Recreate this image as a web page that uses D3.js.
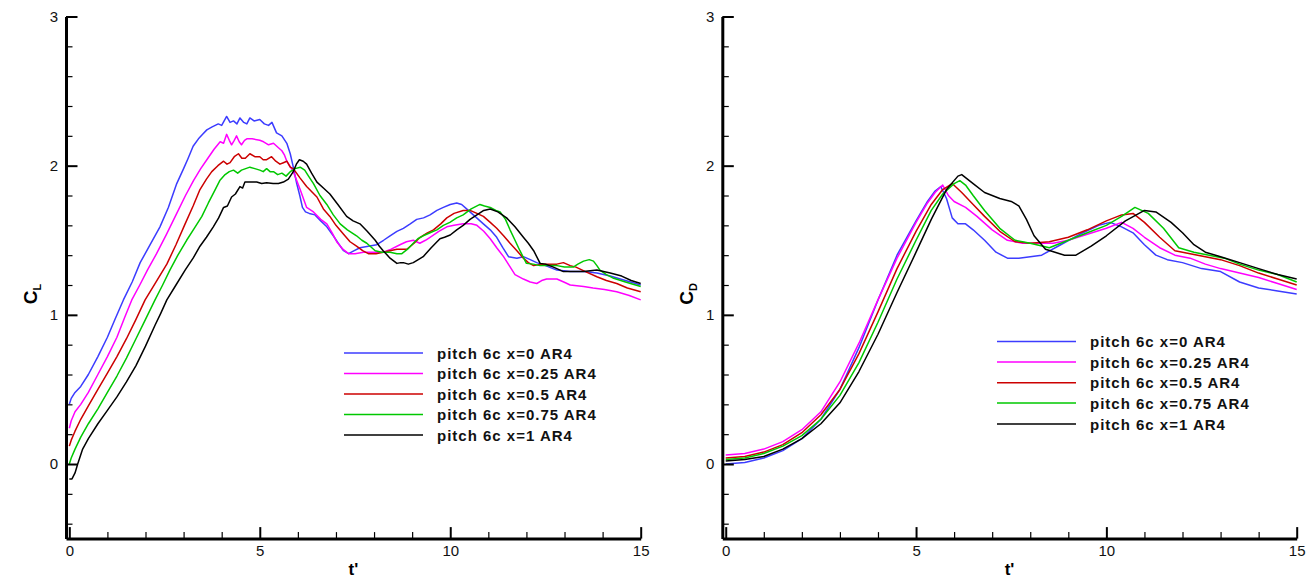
<!DOCTYPE html>
<html>
<head>
<meta charset="utf-8">
<script src="https://cdn.jsdelivr.net/npm/d3@7"></script>
<style>
  body { margin: 0; background: #fff; }
  text { font-family: "Liberation Sans", Arial, sans-serif; }
</style>
</head>
<body>
<svg id="chart" width="1312" height="578"></svg>
<script>
// series names and colours (same order in both panels)
const seriesNames = ["pitch 6c x=0 AR4", "pitch 6c x=0.25 AR4", "pitch 6c x=0.5 AR4", "pitch 6c x=0.75 AR4", "pitch 6c x=1 AR4"]
const seriesColors = ["#3c3cff", "#ff00ff", "#cc0000", "#00c800", "#000000"]

// lift coefficient, [t', CL]
const clX0 = [[0,0.40],[0.05,0.44],[0.15,0.48],[0.3,0.52],[0.5,0.60],[0.75,0.72],[1.0,0.85],[1.2,0.97],[1.42,1.10],[1.65,1.22],[1.86,1.35],[2.1,1.46],[2.38,1.59],[2.6,1.72],[2.82,1.88],[3.0,1.98],[3.12,2.05],[3.25,2.13],[3.39,2.18],[3.5,2.21],[3.61,2.24],[3.75,2.26],[3.91,2.28],[4.0,2.27],[4.13,2.33],[4.22,2.29],[4.31,2.30],[4.4,2.28],[4.48,2.32],[4.58,2.29],[4.66,2.28],[4.74,2.32],[4.85,2.30],[5.0,2.31],[5.12,2.28],[5.23,2.27],[5.32,2.29],[5.44,2.22],[5.58,2.20],[5.71,2.15],[5.8,2.08],[5.88,1.99],[5.97,1.88],[6.05,1.80],[6.12,1.72],[6.2,1.69],[6.3,1.68],[6.45,1.67],[6.6,1.63],[6.76,1.59],[6.93,1.53],[7.06,1.48],[7.2,1.43],[7.33,1.41],[7.48,1.43],[7.63,1.45],[7.85,1.46],[8.07,1.47],[8.25,1.50],[8.42,1.53],[8.6,1.56],[8.77,1.58],[8.95,1.61],[9.12,1.64],[9.3,1.65],[9.47,1.67],[9.65,1.70],[9.82,1.72],[10.0,1.74],[10.17,1.75],[10.3,1.74],[10.43,1.71],[10.65,1.66],[10.87,1.61],[11.05,1.57],[11.22,1.52],[11.38,1.45],[11.53,1.39],[11.75,1.38],[11.92,1.39],[12.1,1.37],[12.27,1.35],[12.5,1.33],[12.8,1.30],[13.15,1.29],[13.5,1.29],[13.85,1.28],[14.2,1.26],[14.6,1.23],[15,1.20]]
const clX025 = [[0,0.24],[0.05,0.29],[0.15,0.35],[0.3,0.40],[0.5,0.48],[0.75,0.60],[1.0,0.72],[1.25,0.85],[1.45,0.98],[1.64,1.10],[1.85,1.20],[2.05,1.30],[2.29,1.41],[2.55,1.54],[2.82,1.68],[3.05,1.80],[3.26,1.90],[3.45,1.98],[3.61,2.04],[3.8,2.11],[3.96,2.16],[4.05,2.15],[4.13,2.21],[4.2,2.17],[4.26,2.14],[4.33,2.17],[4.39,2.20],[4.46,2.16],[4.52,2.14],[4.6,2.17],[4.66,2.18],[4.8,2.18],[5.0,2.17],[5.1,2.16],[5.23,2.14],[5.36,2.15],[5.49,2.12],[5.58,2.10],[5.65,2.07],[5.71,2.03],[5.88,1.96],[6.06,1.84],[6.23,1.72],[6.41,1.69],[6.6,1.64],[6.76,1.61],[6.9,1.55],[7.02,1.49],[7.18,1.44],[7.33,1.41],[7.5,1.41],[7.72,1.42],[8.0,1.42],[8.24,1.42],[8.45,1.44],[8.68,1.47],[8.85,1.49],[9.03,1.50],[9.2,1.48],[9.35,1.50],[9.47,1.52],[9.7,1.56],[9.91,1.59],[10.1,1.60],[10.34,1.61],[10.55,1.61],[10.7,1.60],[10.88,1.56],[11.05,1.51],[11.22,1.45],[11.4,1.39],[11.55,1.33],[11.7,1.27],[11.92,1.24],[12.1,1.22],[12.27,1.21],[12.4,1.23],[12.53,1.24],[12.8,1.24],[12.98,1.22],[13.15,1.20],[13.5,1.19],[13.75,1.18],[14.05,1.17],[14.37,1.155],[14.7,1.13],[15,1.10]]
const clX05 = [[0,0.12],[0.05,0.16],[0.15,0.22],[0.3,0.30],[0.5,0.39],[0.75,0.50],[1.0,0.61],[1.25,0.72],[1.5,0.84],[1.75,0.97],[1.99,1.10],[2.25,1.21],[2.56,1.34],[2.8,1.47],[3.04,1.61],[3.25,1.73],[3.43,1.84],[3.6,1.91],[3.74,1.96],[3.9,2.00],[4.05,2.03],[4.14,2.01],[4.22,2.02],[4.33,2.06],[4.44,2.08],[4.53,2.05],[4.62,2.05],[4.74,2.08],[4.87,2.06],[5.0,2.06],[5.09,2.04],[5.18,2.04],[5.31,2.06],[5.42,2.03],[5.53,2.01],[5.62,2.02],[5.71,2.03],[5.8,1.99],[5.88,1.98],[6.05,1.92],[6.23,1.86],[6.5,1.79],[6.67,1.71],[6.84,1.66],[7.0,1.60],[7.2,1.54],[7.37,1.49],[7.54,1.46],[7.7,1.43],[7.85,1.41],[8.05,1.41],[8.24,1.42],[8.42,1.43],[8.6,1.44],[8.86,1.44],[9.05,1.48],[9.21,1.52],[9.4,1.55],[9.56,1.57],[9.75,1.61],[9.91,1.65],[10.1,1.68],[10.34,1.70],[10.52,1.70],[10.7,1.68],[10.87,1.66],[11.05,1.62],[11.22,1.58],[11.4,1.53],[11.57,1.48],[11.75,1.43],[11.92,1.38],[12.05,1.35],[12.19,1.33],[12.4,1.34],[12.62,1.34],[12.8,1.34],[12.97,1.35],[13.15,1.33],[13.3,1.32],[13.55,1.29],[13.85,1.255],[14.1,1.23],[14.37,1.21],[14.65,1.18],[15,1.155]]
const clX075 = [[0,0.00],[0.05,0.04],[0.15,0.10],[0.3,0.18],[0.5,0.27],[0.75,0.37],[1.0,0.48],[1.25,0.59],[1.5,0.71],[1.75,0.84],[2.0,0.97],[2.25,1.10],[2.45,1.20],[2.64,1.30],[2.85,1.40],[3.08,1.50],[3.28,1.58],[3.48,1.66],[3.65,1.75],[3.83,1.84],[3.95,1.90],[4.09,1.94],[4.2,1.96],[4.31,1.97],[4.42,1.95],[4.52,1.97],[4.63,1.98],[4.74,1.99],[4.87,1.98],[5.0,1.97],[5.09,1.96],[5.18,1.98],[5.27,1.96],[5.36,1.96],[5.47,1.94],[5.58,1.95],[5.69,1.93],[5.8,1.96],[5.93,1.98],[6.06,1.99],[6.18,1.97],[6.28,1.93],[6.41,1.88],[6.58,1.80],[6.76,1.74],[6.93,1.67],[7.11,1.61],[7.3,1.57],[7.54,1.53],[7.68,1.50],[7.81,1.48],[8.03,1.43],[8.2,1.42],[8.42,1.42],[8.6,1.41],[8.73,1.41],[8.88,1.44],[9.03,1.48],[9.15,1.51],[9.29,1.53],[9.47,1.55],[9.65,1.57],[9.82,1.60],[9.99,1.62],[10.17,1.65],[10.34,1.67],[10.55,1.71],[10.78,1.74],[10.9,1.73],[11.05,1.72],[11.2,1.70],[11.31,1.69],[11.45,1.64],[11.57,1.57],[11.7,1.50],[11.83,1.43],[12.0,1.345],[12.18,1.34],[12.36,1.33],[12.55,1.33],[12.8,1.33],[13.0,1.32],[13.23,1.32],[13.35,1.34],[13.5,1.36],[13.65,1.37],[13.76,1.36],[13.85,1.33],[13.93,1.30],[14.1,1.27],[14.29,1.245],[14.6,1.22],[15,1.19]]
const clX1 = [[0,-0.10],[0.07,-0.10],[0.15,-0.06],[0.22,0.0],[0.35,0.10],[0.5,0.17],[0.75,0.27],[1.0,0.36],[1.25,0.45],[1.5,0.55],[1.75,0.66],[2.0,0.79],[2.25,0.93],[2.4,1.01],[2.56,1.10],[2.8,1.20],[3.04,1.30],[3.25,1.38],[3.43,1.46],[3.6,1.52],[3.78,1.59],[3.92,1.65],[4.05,1.72],[4.15,1.73],[4.26,1.79],[4.36,1.81],[4.48,1.86],[4.55,1.85],[4.61,1.89],[4.75,1.89],[4.92,1.89],[5.05,1.88],[5.18,1.885],[5.35,1.88],[5.49,1.88],[5.62,1.89],[5.75,1.91],[5.88,1.96],[5.96,2.01],[6.04,2.04],[6.14,2.03],[6.23,2.01],[6.36,1.95],[6.5,1.89],[6.67,1.85],[6.84,1.81],[7.05,1.74],[7.28,1.66],[7.45,1.63],[7.63,1.61],[7.82,1.56],[8.03,1.50],[8.14,1.46],[8.24,1.43],[8.42,1.38],[8.6,1.345],[8.7,1.35],[8.77,1.35],[8.9,1.34],[9.03,1.35],[9.16,1.37],[9.29,1.39],[9.5,1.45],[9.73,1.51],[9.85,1.52],[10.0,1.535],[10.17,1.57],[10.34,1.60],[10.52,1.64],[10.7,1.67],[10.88,1.70],[11.05,1.71],[11.25,1.69],[11.48,1.65],[11.7,1.59],[11.92,1.52],[12.05,1.48],[12.19,1.43],[12.36,1.345],[12.5,1.34],[12.71,1.32],[12.97,1.29],[13.2,1.29],[13.5,1.29],[13.85,1.30],[14.2,1.28],[14.5,1.26],[14.75,1.23],[15,1.21]]

// drag coefficient, [t', CD]
const cdX0 = [[0,0.00],[0.5,0.01],[1,0.04],[1.5,0.09],[2,0.17],[2.5,0.30],[3,0.50],[3.5,0.78],[4,1.10],[4.5,1.40],[5,1.63],[5.3,1.76],[5.5,1.83],[5.65,1.86],[5.8,1.78],[5.95,1.65],[6.1,1.61],[6.3,1.61],[6.5,1.57],[6.8,1.50],[7.1,1.42],[7.4,1.38],[7.7,1.38],[8.0,1.39],[8.3,1.40],[8.8,1.47],[9.3,1.54],[9.8,1.60],[10.1,1.62],[10.4,1.59],[10.7,1.55],[11,1.47],[11.3,1.40],[11.6,1.37],[12,1.35],[12.5,1.31],[13,1.29],[13.5,1.22],[14,1.18],[14.5,1.16],[15,1.14]]
const cdX025 = [[0,0.06],[0.5,0.07],[1,0.10],[1.5,0.15],[2,0.23],[2.5,0.35],[3,0.55],[3.5,0.81],[4,1.10],[4.5,1.38],[5,1.62],[5.3,1.75],[5.5,1.82],[5.7,1.87],[5.85,1.80],[6.0,1.76],[6.3,1.72],[6.6,1.66],[7,1.57],[7.4,1.50],[7.8,1.48],[8.2,1.48],[8.6,1.48],[9,1.50],[9.5,1.54],[10,1.58],[10.4,1.62],[10.7,1.58],[11,1.52],[11.4,1.45],[11.8,1.40],[12.2,1.38],[12.6,1.34],[13,1.31],[13.5,1.28],[14,1.25],[14.5,1.21],[15,1.17]]
const cdX05 = [[0,0.04],[0.5,0.05],[1,0.08],[1.5,0.13],[2,0.21],[2.5,0.33],[3,0.50],[3.5,0.74],[4,1.02],[4.5,1.31],[5,1.56],[5.4,1.74],[5.7,1.84],[5.95,1.88],[6.2,1.82],[6.5,1.74],[6.8,1.66],[7.2,1.56],[7.6,1.49],[8,1.48],[8.5,1.49],[9,1.52],[9.5,1.57],[10,1.63],[10.4,1.67],[10.7,1.68],[11,1.62],[11.4,1.52],[11.8,1.43],[12.2,1.41],[12.6,1.39],[13,1.37],[13.5,1.33],[14,1.28],[14.5,1.24],[15,1.20]]
const cdX075 = [[0,0.03],[0.5,0.04],[1,0.07],[1.5,0.12],[2,0.19],[2.5,0.30],[3,0.46],[3.5,0.68],[4,0.95],[4.5,1.24],[5,1.50],[5.4,1.70],[5.7,1.81],[6.0,1.88],[6.15,1.90],[6.3,1.87],[6.5,1.80],[6.8,1.70],[7.2,1.58],[7.6,1.50],[8,1.48],[8.5,1.45],[9,1.50],[9.5,1.55],[10,1.60],[10.4,1.66],[10.75,1.72],[11.1,1.68],[11.5,1.58],[11.9,1.45],[12.3,1.42],[12.7,1.40],[13.1,1.38],[13.5,1.34],[14,1.30],[14.5,1.27],[15,1.22]]
const cdX1 = [[0,0.02],[0.5,0.03],[1,0.05],[1.5,0.10],[2,0.17],[2.5,0.27],[3,0.41],[3.5,0.62],[4,0.87],[4.5,1.15],[5,1.42],[5.4,1.64],[5.8,1.84],[6.1,1.93],[6.2,1.94],[6.5,1.88],[6.8,1.82],[7.2,1.78],[7.5,1.76],[7.7,1.73],[7.9,1.64],[8.1,1.53],[8.4,1.44],[8.9,1.40],[9.2,1.40],[9.6,1.46],[10,1.53],[10.5,1.63],[11,1.70],[11.3,1.69],[11.7,1.62],[12.0,1.55],[12.3,1.47],[12.6,1.42],[13,1.39],[13.5,1.35],[14,1.31],[14.5,1.27],[15,1.24]]

const xMajor = [0, 5, 10, 15]
const xMinor = d3.range(0, 16, 1).filter(d => d % 5 != 0)
const yMajor = [0, 1, 2, 3]
const yMinor = [-0.4, -0.2, 0.2, 0.4, 0.6, 0.8, 1.2, 1.4, 1.6, 1.8, 2.2, 2.4, 2.6, 2.8]

const svg = d3.select("#chart")

function panel(cfg) {
    const x = d3.scaleLinear().domain([cfg.tMin, 15]).range([cfg.left, cfg.right])
    const y = d3.scaleLinear().domain([-0.5, 3]).range([538.6, 16.5])
    const g = svg.append("g")

    const line = d3.line()
        .x(d => x(d[0]))
        .y(d => y(d[1]))

    cfg.series.forEach(function (s, i) {
        g.append("path")
            .attr("d", line(s))
            .attr("fill", "none")
            .attr("stroke", seriesColors[i])
            .attr("stroke-width", 1.5)
            .attr("stroke-linejoin", "round")
    })

    // minor ticks first, then the major axis on top
    const xMin = g.append("g").attr("transform", "translate(0,538.6)")
        .call(d3.axisBottom(x).tickValues(xMinor).tickSize(-6.5).tickFormat(""))
    xMin.select(".domain").remove()
    xMin.selectAll("line").attr("stroke-width", 1.2)

    const yMin = g.append("g").attr("transform", `translate(${cfg.left},0)`)
        .call(d3.axisLeft(y).tickValues(yMinor).tickSize(-6.5).tickFormat(""))
    yMin.select(".domain").remove()
    yMin.selectAll("line").attr("stroke-width", 1.2)

    const xAxisG = g.append("g").attr("transform", "translate(0,538.6)")
        .call(d3.axisBottom(x).tickValues(xMajor).tickFormat(d3.format("d"))
            .tickSizeInner(-11.5).tickSizeOuter(0).tickPadding(6.5))
    xAxisG.select(".domain").attr("stroke-width", 3)
    xAxisG.selectAll("line").attr("stroke-width", 2)
    xAxisG.selectAll("text").attr("font-size", 15).attr("fill", "#111")
        .attr("font-family", "Liberation Sans, Arial, sans-serif")

    const yAxisG = g.append("g").attr("transform", `translate(${cfg.left},0)`)
        .call(d3.axisLeft(y).tickValues(yMajor).tickFormat(d3.format("d"))
            .tickSizeInner(-11.5).tickSizeOuter(0).tickPadding(8))
    yAxisG.select(".domain").attr("stroke-width", 3)
    yAxisG.selectAll("line").attr("stroke-width", 2)
    yAxisG.selectAll("text").attr("font-size", 15).attr("fill", "#111")
        .attr("font-family", "Liberation Sans, Arial, sans-serif")

    g.append("text")
        .attr("x", (cfg.left + cfg.right) / 2)
        .attr("y", 575)
        .attr("text-anchor", "middle")
        .attr("font-size", 17)
        .attr("font-weight", "bold")
        .text("t'")

    const yl = g.append("text")
        .attr("transform", `translate(${cfg.left - 29},294) rotate(-90)`)
        .attr("text-anchor", "middle")
        .attr("font-size", 19)
        .attr("font-weight", "bold")
    yl.append("tspan").text("C")
    yl.append("tspan").attr("font-size", 11).attr("dy", 4).text(cfg.sub)

    // legend
    const lg = g.append("g")
    cfg.legendY.forEach(function (ly, i) {
        lg.append("line")
            .attr("x1", cfg.legendX).attr("x2", cfg.legendX + 79)
            .attr("y1", ly).attr("y2", ly)
            .attr("stroke", seriesColors[i]).attr("stroke-width", 1.5)
        lg.append("text")
            .attr("x", cfg.legendX + 93).attr("y", ly + 5.5)
            .attr("font-size", 15).attr("font-weight", "bold")
            .attr("letter-spacing", 1)
            .attr("fill", "#111")
            .text(seriesNames[i])
    })
}

panel({
    left: 66, right: 640.7, tMin: -0.087, sub: "L",
    series: [clX0, clX025, clX05, clX075, clX1],
    legendX: 344, legendY: [353, 373.5, 394, 414.5, 435]
})

panel({
    left: 722.3, right: 1296.7, tMin: -0.09, sub: "D",
    series: [cdX0, cdX025, cdX05, cdX075, cdX1],
    legendX: 997, legendY: [341.5, 362, 382.7, 403, 424]
})
</script>
</body>
</html>
